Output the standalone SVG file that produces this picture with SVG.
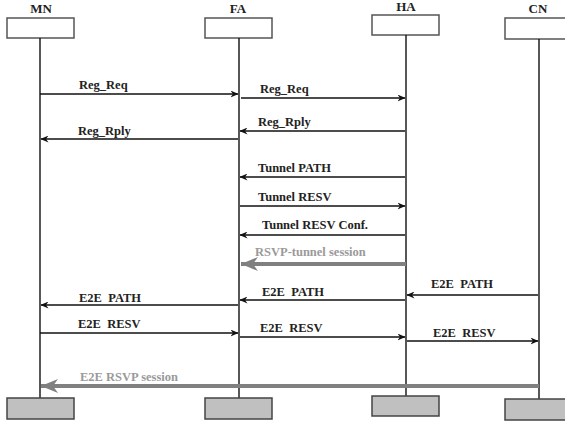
<svg xmlns="http://www.w3.org/2000/svg" width="565" height="421" viewBox="0 0 565 421">
<defs>
<marker id="ah" markerWidth="8" markerHeight="7" refX="7.5" refY="3.5" orient="auto" markerUnits="userSpaceOnUse">
<path d="M0,0 L8,3.5 L0,7 L2.5,3.5 z" fill="#111"/>
</marker>
<marker id="big" markerWidth="18" markerHeight="14" refX="17" refY="7" orient="auto" markerUnits="userSpaceOnUse">
<path d="M17,7 L0,0 L5,7 L0,14 z" fill="#808080"/>
</marker>
</defs>
<style>
text{font-family:"Liberation Serif","Times New Roman",serif;font-weight:bold;font-size:12.5px;fill:#222;white-space:pre}
.hdr{text-anchor:middle;font-size:13px}
.gray{fill:#9a9a9a}
.box{fill:#fff;stroke:#555;stroke-width:1.5}
.fbox{fill:#c0c0c0;stroke:#444;stroke-width:1.5}
.life{stroke:#111;stroke-width:1.4}
.msg{stroke:#111;stroke-width:1.3;fill:none;marker-end:url(#ah)}
.sess{stroke:#808080;stroke-width:4;fill:none;marker-end:url(#big)}
</style>
<g id="MN">
<text class="hdr" x="41" y="13">MN</text>
<rect class="box" x="7" y="18" width="67" height="20"/>
<line class="life" x1="40" y1="38" x2="40" y2="398"/>
<rect class="fbox" x="7" y="398" width="67" height="21"/>
</g>
<g id="FA">
<text class="hdr" x="238" y="13">FA</text>
<rect class="box" x="205" y="18" width="67" height="20"/>
<line class="life" x1="239" y1="38" x2="239" y2="398"/>
<rect class="fbox" x="205" y="398" width="67" height="21"/>
</g>
<g id="HA">
<text class="hdr" x="406" y="11">HA</text>
<rect class="box" x="372" y="15" width="67" height="20"/>
<line class="life" x1="406" y1="35" x2="406" y2="396"/>
<rect class="fbox" x="372" y="396" width="67" height="20"/>
</g>
<g id="CN">
<text class="hdr" x="538" y="13">CN</text>
<rect class="box" x="505" y="18" width="67" height="21"/>
<line class="life" x1="539" y1="39" x2="539" y2="399"/>
<rect class="fbox" x="505" y="399" width="67" height="21"/>
</g>
<g id="connectors">
<line class="msg" x1="40" y1="94" x2="238" y2="94"/>
<text x="79" y="89">Reg_Req</text>
<line class="msg" x1="241" y1="98" x2="405" y2="98"/>
<text x="260" y="93">Reg_Req</text>
<line class="msg" x1="405" y1="131" x2="240" y2="131"/>
<text x="258" y="126">Reg_Rply</text>
<line class="msg" x1="238" y1="139" x2="41" y2="139"/>
<text x="78" y="135">Reg_Rply</text>
<line class="msg" x1="405" y1="177" x2="240" y2="177"/>
<text x="258" y="172">Tunnel PATH</text>
<line class="msg" x1="240" y1="206" x2="405" y2="206"/>
<text x="258" y="201">Tunnel RESV</text>
<line class="msg" x1="405" y1="235" x2="240" y2="235"/>
<text x="262" y="229">Tunnel RESV Conf.</text>
<line class="sess" x1="406" y1="264" x2="241" y2="264"/>
<text class="gray" x="255" y="256">RSVP-tunnel session</text>
<line class="msg" x1="538" y1="295" x2="407" y2="295"/>
<text x="431" y="288">E2E  PATH</text>
<line class="msg" x1="405" y1="300" x2="240" y2="300"/>
<text x="262" y="296">E2E  PATH</text>
<line class="msg" x1="238" y1="305" x2="41" y2="305"/>
<text x="79" y="302">E2E  PATH</text>
<line class="msg" x1="40" y1="333" x2="238" y2="333"/>
<text x="78" y="328">E2E  RESV</text>
<line class="msg" x1="240" y1="337" x2="405" y2="337"/>
<text x="260" y="332">E2E  RESV</text>
<line class="msg" x1="407" y1="341" x2="538" y2="341"/>
<text x="433" y="337">E2E  RESV</text>
<line class="sess" x1="539" y1="386" x2="41" y2="386"/>
<text class="gray" x="80" y="381">E2E RSVP session</text>
</g>
</svg>
